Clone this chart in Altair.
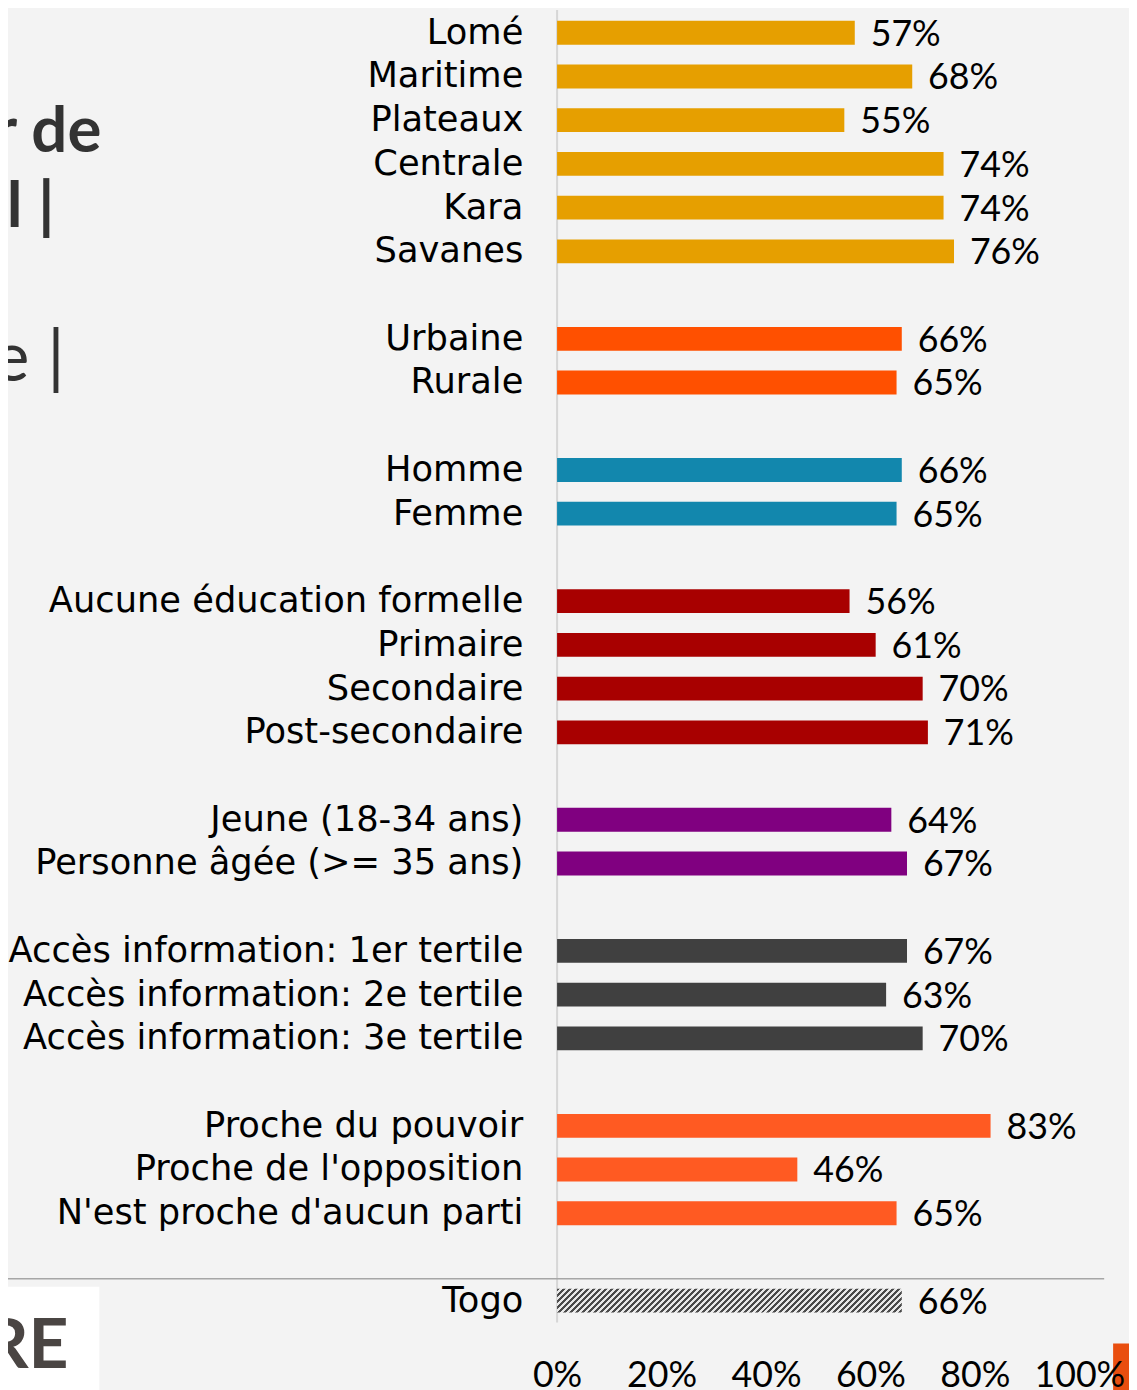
import altair as alt
import pandas as pd

# ---- data ----
categories = [
    "Lomé", "Maritime", "Plateaux", "Centrale", "Kara", "Savanes",
    "Urbaine", "Rurale",
    "Homme", "Femme",
    "Aucune éducation formelle", "Primaire", "Secondaire", "Post-secondaire",
    "Jeune (18-34 ans)", "Personne âgée (>= 35 ans)",
    "Accès information: 1er tertile", "Accès information: 2e tertile", "Accès information: 3e tertile",
    "Proche du pouvoir", "Proche de l'opposition", "N'est proche d'aucun parti",
    "Togo",
]
values = [57, 68, 55, 74, 74, 76,
          66, 65,
          66, 65,
          56, 61, 70, 71,
          64, 67,
          67, 63, 70,
          83, 46, 65,
          66]
groups = (["Région"] * 6 + ["Milieu"] * 2 + ["Genre"] * 2 + ["Éducation"] * 4
          + ["Âge"] * 2 + ["Information"] * 3 + ["Parti"] * 3 + ["Togo"])
group_order = ["Région", "Milieu", "Genre", "Éducation", "Âge", "Information", "Parti"]
group_colors = ["#E69F00", "#FF5000", "#1287AD", "#A80000", "#800080", "#404040", "#FF5A22"]
tick_values = [0, 20, 40, 60, 80, 100]

# row order, with one empty row between groups
ranks = []
r = 0
prev = None
for g in groups:
    if prev is not None and g != prev:
        r += 1
    ranks.append(r)
    r += 1
    prev = g

df = pd.DataFrame({"categorie": categories, "valeur": values, "groupe": groups, "rang": ranks})
one = pd.DataFrame({"valeur": [0]})

x_scale = alt.Scale(domain=[0, 100], range=[553, 1079], nice=False, zero=True, padding=0)
y_scale = alt.Scale(domain=[0, max(ranks)], range=[20, 1297], nice=False, zero=False, padding=0)
x_axis = alt.Axis(values=tick_values, labelExpr="datum.value + '%'", domain=False, ticks=False,
                  tickSize=0, grid=False, labelFont="Lato", labelFontSize=36, labelColor="black",
                  labelPadding=0, labelBaseline="middle", offset=-10, title=None, zindex=1,
                  labelFlush=False, labelOverlap=False)
x_enc = alt.X("valeur:Q", scale=x_scale, axis=x_axis)
y_enc = alt.Y("rang:Q", scale=y_scale, axis=None)

# hatch for the Togo bar
n_stripes = 62
stops = []
for k in range(n_stripes):
    a = k / n_stripes
    m = (k + 0.5) / n_stripes
    b = (k + 1) / n_stripes
    stops += [alt.GradientStop(offset=a, color="#4a4a4a"), alt.GradientStop(offset=m, color="#4a4a4a"),
              alt.GradientStop(offset=m, color="#e8e8e8"), alt.GradientStop(offset=b, color="#e8e8e8")]
hatch = alt.LinearGradient(gradient="linear", stops=stops, x1=0, y1=0, x2=1.07, y2=0.074)

white_box = alt.Chart(one).mark_rect(color="white").encode(
    x=alt.value(-8), x2=alt.value(92), y=alt.value(1283), y2=alt.value(1390))
orange_box = alt.Chart(one).mark_rect(color="#E94E0F").encode(
    x=alt.value(1113), x2=alt.value(1135), y=alt.value(1340), y2=alt.value(1390))

vline = alt.Chart(one).mark_rule(color="#d6d6d6", strokeWidth=2).encode(
    x=x_enc, y=alt.value(-3), y2=alt.value(1319))
hline = alt.Chart(one).mark_rule(color="#a6a6a6", strokeWidth=1.5).encode(
    x=alt.value(-8), x2=alt.value(1104), y=alt.value(1275))

bars = alt.Chart(df).transform_filter("datum.groupe != 'Togo'").mark_bar(
    orient="horizontal", size=24).encode(
    x=x_enc, y=y_enc,
    color=alt.Color("groupe:N", scale=alt.Scale(domain=group_order, range=group_colors), legend=None))

togo_bar = alt.Chart(df).transform_filter("datum.groupe == 'Togo'").mark_bar(
    orient="horizontal", size=24, fill=hatch).encode(x=x_enc, y=y_enc)

value_labels = alt.Chart(df).transform_calculate(etiquette="datum.valeur + '%'").mark_text(
    align="left", baseline="middle", dx=16, dy=2, font="Lato", fontSize=36, color="black").encode(
    x=x_enc, y=y_enc, text="etiquette:N")

cat_labels = alt.Chart(df).mark_text(
    align="right", baseline="middle", font="DejaVu Sans", fontSize=35.5, color="black").encode(
    x=alt.value(519), y=y_enc, text="categorie:N")

t1 = alt.Chart(one).mark_text(text="r de", align="right", baseline="alphabetic", font="Lato",
                              fontWeight="bold", fontSize=64, color="#333333").encode(
    x=alt.value(94), y=alt.value(140))
t2 = alt.Chart(one).mark_text(text="l |", align="right", baseline="middle", font="Lato",
                              fontWeight="bold", fontSize=64, color="#333333").encode(
    x=alt.value(47), y=alt.value(197))
t3 = alt.Chart(one).mark_text(text="e |", align="right", baseline="middle", font="Lato",
                              fontSize=70, color="#333333").encode(
    x=alt.value(57), y=alt.value(350))
logo = alt.Chart(one).mark_text(text="RE", align="right", baseline="alphabetic", font="Lato",
                                fontWeight="bold", fontSize=70, color="#4a4543").encode(
    x=alt.value(61), y=alt.value(1365))

chart = alt.layer(
    white_box, orange_box, vline, hline, bars, togo_bar, value_labels, cat_labels, t1, t2, t3, logo
).properties(
    width=1129, height=1382, autosize=alt.AutoSizeParams(type="none"), padding=0,
    background="#f3f3f3"
).configure_view(stroke=None)

chart.save("out.html", embed_options={"renderer": "svg", "actions": False})
